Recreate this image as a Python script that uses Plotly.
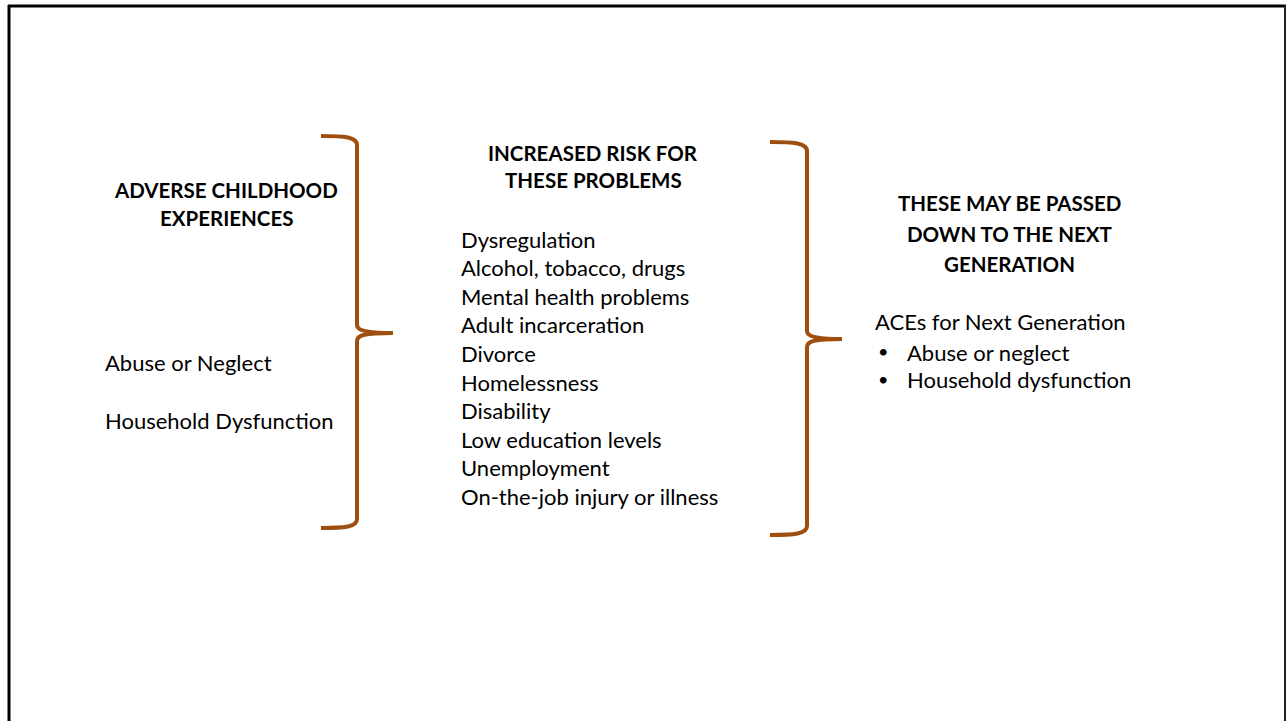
import plotly.graph_objects as go

W, H = 1286, 721
FONT = "Lato"
BROWN = "#9E4F10"

# ---- text content ----
left_heading = ["ADVERSE CHILDHOOD", "EXPERIENCES"]
left_items = ["Abuse or Neglect", "Household Dysfunction"]
mid_heading = ["INCREASED RISK FOR", "THESE PROBLEMS"]
mid_items = ["Dysregulation", "Alcohol, tobacco, drugs", "Mental health problems",
             "Adult incarceration", "Divorce", "Homelessness", "Disability",
             "Low education levels", "Unemployment", "On-the-job injury or illness"]
right_heading = ["THESE MAY BE PASSED", "DOWN TO THE NEXT", "GENERATION"]
right_intro = "ACEs for Next Generation"
right_bullets = ["Abuse or neglect", "Household dysfunction"]

fig = go.Figure()
fig.add_trace(go.Scatter(x=[0, W], y=[0, H], mode="markers",
                         marker=dict(opacity=0), hoverinfo="skip", showlegend=False))

annotations = []

def txt(x, y, s, anchor="left", bold=False, size=22):
    annotations.append(dict(
        x=x, y=y, xref="x", yref="y", text=f"<b>{s}</b>" if bold else s,
        showarrow=False, xanchor=anchor, yanchor="middle",
        font=dict(family=FONT, size=size, color="black")))

HS = 20.5
for i, s in enumerate(left_heading):
    txt(226, 190 + i * 28, s, "center", True, HS)
for s, y in zip(left_items, [362, 420]):
    txt(103, y, s)

for i, s in enumerate(mid_heading):
    txt(593, 153 + i * 27, s, "center", True, HS)
for i, s in enumerate(mid_items):
    txt(459, 239 + i * 28.6, s)

for i, s in enumerate(right_heading):
    txt(1009, 203 + i * 30.5, s, "center", True, HS)
txt(873, 321, right_intro)
for i, s in enumerate(right_bullets):
    txt(876, 351 + i * 27.5, "•", size=18)
    txt(905, 352 + i * 27.5, s)

# ---- braces ----
def brace(x0, xv, xt, yt, ym, yb):
    return (f"M {x0} {yt} C {x0+24} {yt}, {xv} {yt+1}, {xv} {yt+9} "
            f"L {xv} {ym-8} C {xv} {ym-3}, {xv+8} {ym}, {xt} {ym} "
            f"C {xv+8} {ym}, {xv} {ym+2}, {xv} {ym+8} "
            f"L {xv} {yb-9} C {xv} {yb-1}, {x0+24} {yb}, {x0} {yb}")

shapes = [
    dict(type="path", path=brace(321, 357, 393, 136, 333, 528),
         line=dict(color=BROWN, width=4), xref="x", yref="y"),
    dict(type="path", path=brace(770, 807, 842, 142, 339, 535),
         line=dict(color=BROWN, width=4), xref="x", yref="y"),
    # slide frame
    dict(type="line", x0=9, x1=9, y0=5, y1=H + 10, line=dict(color="black", width=3), xref="x", yref="y"),
    dict(type="line", x0=8, x1=1286, y0=6, y1=6, line=dict(color="black", width=3), xref="x", yref="y"),
    dict(type="line", x0=1285, x1=1285, y0=5, y1=H + 10, line=dict(color="#222", width=2), xref="x", yref="y"),
]

fig.update_layout(
    width=W, height=H, margin=dict(l=0, r=0, t=0, b=0),
    paper_bgcolor="white", plot_bgcolor="white",
    xaxis=dict(range=[0, W], visible=False, fixedrange=True),
    yaxis=dict(range=[H, 0], visible=False, fixedrange=True),
    annotations=annotations, shapes=shapes, showlegend=False,
)
fig.write_html("out.html", config={"displayModeBar": False},
               post_script="document.body.style.margin='0';document.body.style.overflow='hidden';")
